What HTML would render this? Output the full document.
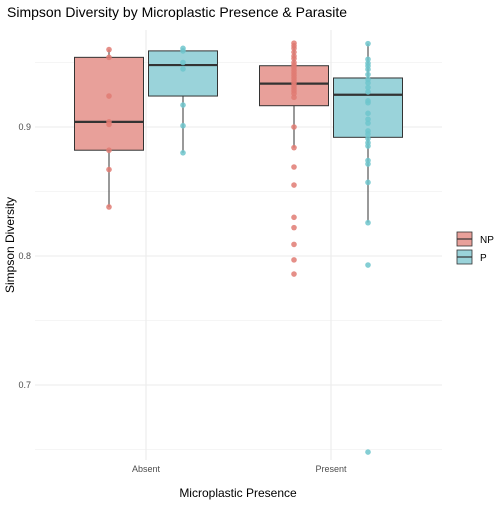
<!DOCTYPE html>
<html><head><meta charset="utf-8"><style>
body{margin:0;background:#fff;font-family:"Liberation Sans",sans-serif}
svg text{font-family:"Liberation Sans",sans-serif}
</style></head><body>
<svg width="504" height="504" xmlns="http://www.w3.org/2000/svg">
<g id="grid"></g><g id="marks"></g><g id="axes"></g>
<text x="7" y="17" font-size="14" fill="#000">Simpson Diversity by Microplastic Presence &amp; Parasite</text>
<text x="238" y="497" font-size="12" text-anchor="middle">Microplastic Presence</text>
<text transform="translate(14,245) rotate(-90)" font-size="12" text-anchor="middle">Simpson Diversity</text>
<g>
<rect x="457" y="232" width="15" height="14" fill="#E8A09A" stroke="#333" stroke-width="0.8"/>
<line x1="457" y1="239" x2="472" y2="239" stroke="#333" stroke-width="1.2"/>
<text x="480" y="243" font-size="10">NP</text>
<rect x="457" y="250" width="15" height="14" fill="#9AD3DA" stroke="#333" stroke-width="0.8"/>
<line x1="457" y1="257" x2="472" y2="257" stroke="#333" stroke-width="1.2"/>
<text x="480" y="261" font-size="10">P</text>
</g>
</svg>
<script>
const categories=["Absent","Present"];
const groups=["NP","P"];
const yTicks=[0.7,0.8,0.9];
const boxNP=[[0.838,0.882,0.904,0.954,0.960],[0.884,0.9165,0.9336,0.9475,0.965]];
const boxP=[[0.880,0.924,0.948,0.959,0.961],[0.826,0.892,0.925,0.938,0.9646]];
const ptsAbsentNP=[0.960,0.954,0.924,0.904,0.902,0.882,0.867,0.838];
const ptsAbsentP=[0.961,0.959,0.950,0.945,0.917,0.901,0.880];
const ptsPresentNP=[0.965,0.963,0.961,0.958,0.955,0.953,0.950,0.948,0.946,0.944,0.942,0.940,0.938,0.936,0.934,0.932,0.930,0.928,0.926,0.923,0.900,0.884,0.869,0.855,0.830,0.822,0.809,0.797,0.786];
const ptsPresentP=[0.9646,0.9525,0.9494,0.9473,0.9447,0.9407,0.9368,0.9342,0.9306,0.9272,0.9203,0.9188,0.9106,0.906,0.903,0.897,0.8946,0.891,0.8878,0.8853,0.874,0.8713,0.8571,0.8258,0.793,0.648];
const NS="http://www.w3.org/2000/svg";
const L=35,R=442,T=30,B=460;
const y=v=>127+(0.9-v)*1290;
const x=i=>146+i*185;
const bw=69,off=37;
function mk(tag,attrs,parent){const e=document.createElementNS(NS,tag);for(const k in attrs)e.setAttribute(k,attrs[k]);document.getElementById(parent).appendChild(e);return e;}
// grid
for(let v=0.65;v<0.97;v+=0.05){const major=Math.abs(v*10-Math.round(v*10))<1e-6;
const g=mk("line",{x1:L,x2:R,y1:y(v),y2:y(v),stroke:"#ebebeb","stroke-width":major?1.1:0.6},"grid");

}
categories.forEach((c,i)=>{const g=mk("line",{x1:x(i),x2:x(i),y1:T,y2:B,stroke:"#ebebeb","stroke-width":1.1},"grid");


const t=mk("text",{x:x(i),y:472,"font-size":9,fill:"#4d4d4d","text-anchor":"middle"},"axes");t.textContent=c;

});
yTicks.forEach(v=>{const t=mk("text",{x:31,y:y(v)+3,"font-size":9,fill:"#4d4d4d","text-anchor":"end"},"axes");t.textContent=v.toFixed(1);

});
function box(b,cx,fill,name){
const w=mk("line",{x1:cx,x2:cx,y1:y(b[0]),y2:y(b[4]),stroke:"#333","stroke-width":1},"marks");


const r=mk("rect",{x:cx-bw/2,y:y(b[3]),width:bw,height:y(b[1])-y(b[3]),fill:fill,stroke:"#333","stroke-width":1},"marks");


const m=mk("line",{x1:cx-bw/2,x2:cx+bw/2,y1:y(b[2]),y2:y(b[2]),stroke:"#333","stroke-width":2.2},"marks");

}
function pts(arr,cx,col,name){arr.forEach(v=>{const c=mk("circle",{cx:cx,cy:y(v),r:2.8,fill:col,"fill-opacity":0.85},"marks");

});}
box(boxNP[0],x(0)-off,"#E8A09A","absent-np");box(boxP[0],x(0)+off,"#9AD3DA","absent-p");
box(boxNP[1],x(1)-off,"#E8A09A","present-np");box(boxP[1],x(1)+off,"#9AD3DA","present-p");
pts(ptsAbsentNP,x(0)-off,"#E07B73","absent-np");pts(ptsAbsentP,x(0)+off,"#6EC5CC","absent-p");
pts(ptsPresentNP,x(1)-off,"#E07B73","present-np");pts(ptsPresentP,x(1)+off,"#6EC5CC","present-p");
</script>
</body></html>
